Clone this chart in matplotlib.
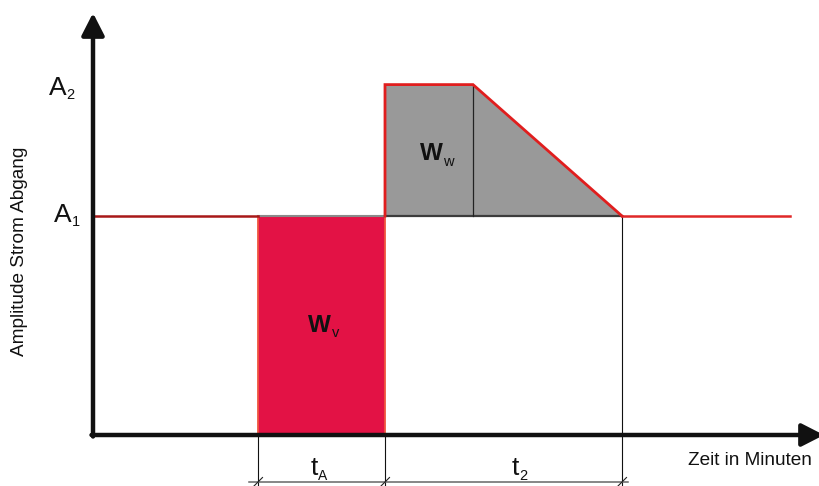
import matplotlib
matplotlib.use("Agg")
import matplotlib.pyplot as plt

plt.rcParams['font.family'] = ['Liberation Sans', 'DejaVu Sans']

# ---- data (schematic: time in arbitrary minutes, amplitude relative) ----
t_on = 16.5        # start of t_A (red block)
t_off = 29.2       # end of t_A / start of t_2
t_flat = 38.0      # end of flat top at A2
t_end = 52.9       # end of t_2
t_line_end = 69.7  # end of drawn A1 line
A1 = 1.0
A2 = 1.6

x_min, x_max = -9.3, 72.7
y_min, y_max = -51 / 219, 435 / 219

fig = plt.figure(figsize=(8.2, 4.86), dpi=100)
ax = fig.add_axes([0, 0, 1, 1])
ax.set_xlim(x_min, x_max)
ax.set_ylim(y_min, y_max)
ax.axis('off')

def P(px, py):
    """pixel position (for text placement) -> data coordinates"""
    return px / 10 - 9.3, (435 - py) / 219

# red block W_v
ax.fill_between([t_on, t_off], 0, A1, color='#E31245', lw=0, zorder=2)
ax.plot([t_on, t_on], [0, A1], color='#F0553F', lw=1.3, zorder=3)
ax.plot([t_off, t_off], [0, A1], color='#F0553F', lw=1.3, zorder=3)
ax.plot([t_on, t_off], [A1, A1], color='#8a8a8a', lw=1.5, zorder=3)

# gray shape W_w
gx = [t_off, t_off, t_flat, t_end]
gy = [A1, A2, A2, A1]
ax.fill(gx, gy, color='#999999', lw=0, zorder=2)
ax.plot([t_off, t_end], [A1, A1], color='#3c3c3c', lw=1.6, zorder=3)
ax.plot([t_flat, t_flat], [A1, A2], color='#222222', lw=0.9, zorder=3)
ax.plot(gx, gy, color='#E01E1E', lw=2.0, zorder=4, solid_joinstyle='miter')

# A1 level lines
ax.plot([0, t_on], [A1, A1], color='#A81818', lw=1.8, zorder=3)
ax.plot([t_end, t_line_end], [A1, A1], color='#E02828', lw=1.8, zorder=3)

# extension lines
for t, top in [(t_on, 0), (t_off, 0), (t_end, A1)]:
    ax.plot([t, t], [top, y_min], color='#111111', lw=0.8, zorder=1)

# dimension line
dim_y = (435 - 482) / 219
ax.plot([15.6, 53.5], [dim_y, dim_y], color='#666666', lw=1.1, zorder=3)
for t in [t_on, t_off, t_end]:
    ax.plot([t - 0.45, t + 0.45], [dim_y - 4.5 / 219, dim_y + 4.5 / 219],
            color='#222222', lw=0.8, zorder=4)

# axes with arrows
arrow = dict(arrowstyle='-|>,head_length=0.9,head_width=0.46',
             lw=3.2, color='#111111', shrinkA=0, shrinkB=0, mutation_scale=15)
ax.annotate('', xy=(0, (435 - 13) / 219), xytext=(0, -1.5 / 219),
            arrowprops=arrow, zorder=5, annotation_clip=False)
ax.annotate('', xy=(73.1, 0), xytext=(-0.15, 0),
            arrowprops=arrow, zorder=5, annotation_clip=False)

# texts
def label(px, py, main, sub, size, subsize, sub_dx, sub_dy):
    x, y = P(px, py)
    ax.text(x, y, main, fontsize=size, ha='right', va='baseline',
            color='#111111', zorder=6)
    x2, y2 = P(px + sub_dx, py + sub_dy)
    ax.text(x2, y2, sub, fontsize=subsize, ha='left', va='baseline',
            color='#111111', zorder=6)

label(67, 95, 'A', '2', 19, 10.5, -0.5, 4)
label(72, 222, 'A', '1', 19, 10.5, -0.5, 4)
label(318, 475, 't', 'A', 19, 10, 0, 5)
label(519, 475, 't', '2', 19, 10.5, 0.5, 5)

x, y = P(308, 332)
ax.text(x, y, 'W', fontsize=17.5, fontweight='bold', ha='left', va='baseline',
        color='#111111', zorder=6)
x, y = P(332, 337)
ax.text(x, y, 'v', fontsize=10.5, ha='left', va='baseline', color='#111111', zorder=6)
x, y = P(420, 160)
ax.text(x, y, 'W', fontsize=17.5, fontweight='bold', ha='left', va='baseline',
        color='#111111', zorder=6)
x, y = P(443, 166)
ax.text(x, y, 'w', fontsize=10.5, ha='left', va='baseline', color='#111111', zorder=6)

x, y = P(750, 465)
ax.text(x, y, 'Zeit in Minuten', fontsize=13.7, ha='center', va='baseline',
        color='#111111', zorder=6)
x, y = P(19, 251)
ax.text(x, y, 'Amplitude Strom Abgang', fontsize=13.7, rotation=90,
        ha='center', va='center', color='#111111', zorder=6)

fig.savefig('out.png', dpi=100)
